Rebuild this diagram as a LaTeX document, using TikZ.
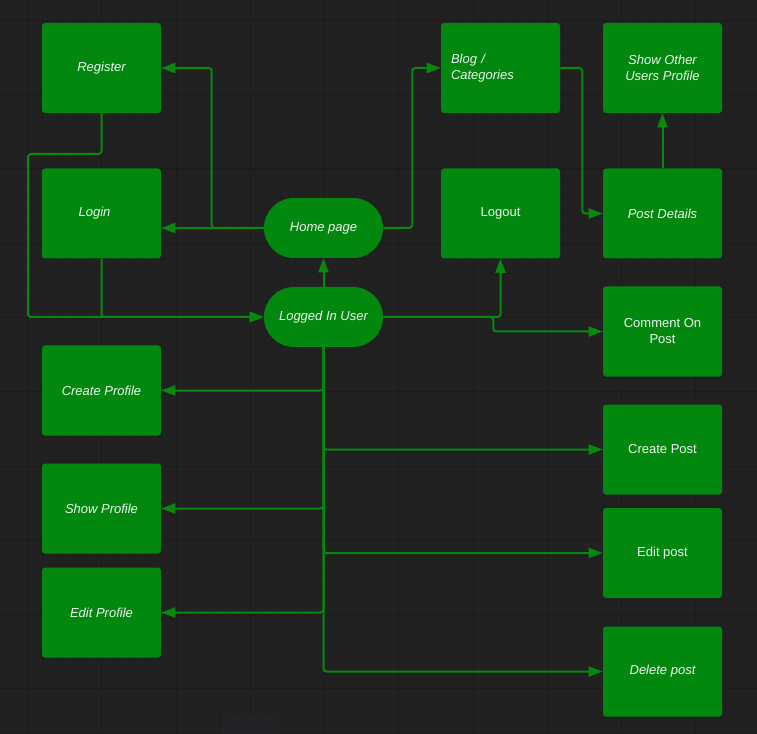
\documentclass[tikz,border=0pt]{standalone}
\usepackage{fontspec}
\setmainfont{Liberation Sans}
\usetikzlibrary{arrows.meta}
\definecolor{bg}{HTML}{212121}
\definecolor{gmin}{HTML}{1E1E1E}
\definecolor{gmaj}{HTML}{1B1B1B}
\definecolor{boxg}{HTML}{03880F}
\definecolor{lineg}{HTML}{07880F}
\definecolor{txt}{HTML}{EEF6EE}
\definecolor{faint}{HTML}{232326}
\begin{document}
\begin{tikzpicture}[x=0.75pt,y=-0.75pt,
  box/.style={fill=boxg, rounded corners=2.25pt, minimum width=89.25pt, minimum height=67.5pt,
    inner sep=0pt, text=txt, font=\fontsize{9.75}{12}\selectfont, align=center},
  ibox/.style={box, font=\fontsize{9.75}{12}\selectfont\itshape},
  pill/.style={ibox, rounded corners=22.5pt, minimum height=45pt},
  conn/.style={draw=lineg, line width=1.5pt, rounded corners=2.25pt,
    -{Triangle[length=10.5pt,width=7.5pt]}},
]
\useasboundingbox (0,0) rectangle (757,734);
% background and grid
\fill[bg] (0,0) rectangle (757,734);
\foreach \k in {-1,...,49} \draw[gmin, line width=0.6pt] ({27.5+\k*14.85},0) -- ({27.5+\k*14.85},734);
\foreach \k in {-1,...,48} \draw[gmin, line width=0.6pt] (0,{20.5+\k*14.85}) -- (757,{20.5+\k*14.85});
\foreach \k in {0,...,9} \draw[gmaj, line width=0.75pt] ({27.5+\k*74.25},0) -- ({27.5+\k*74.25},734);
\foreach \k in {0,...,9} \draw[gmaj, line width=0.75pt] (0,{20.5+\k*74.25}) -- (757,{20.5+\k*74.25});
\fill[faint, rounded corners=3pt] (222,714) rectangle (280,740);

% nodes
\node[ibox] (reg) at (101.5,68) {Register};
\node[ibox] (login) at (101.5,213.5) {Login\hspace*{10.5pt}};
\node[ibox] (cprof) at (101.5,390.5) {Create Profile};
\node[ibox] (sprof) at (101.5,508.5) {Show Profile};
\node[ibox] (eprof) at (101.5,612.5) {Edit Profile};
\node[pill] (home) at (323.5,228) {Home page};
\node[pill] (liu) at (323.5,317) {Logged In User};
\node[ibox, text width=74.25pt, align=left] (blog) at (500.5,68) {Blog /\\Categories};
\node[box] (logout) at (500.5,213.5) {Logout};
\node[ibox] (sop) at (662.5,68) {Show Other\\Users Profile};
\node[ibox] (pd) at (662.5,213.5) {Post Details};
\node[box] (cop) at (662.5,331.5) {Comment On\\Post};
\node[box] (cpost) at (662.5,449.5) {Create Post};
\node[box] (epost) at (662.5,553) {Edit post};
\node[ibox] (dpost) at (662.5,671.5) {Delete post};

\coordinate (regbend) at (28,154);

% connectors
\draw[conn] (home.west) -- ++(-52,0) |- (reg.east);
\draw[conn] (home.west) -- (home.west -| login.east);
\draw[conn] (home.east) -- ++(29,0) |- (blog.west);
\draw[conn] (blog.east) -- ++(22,0) |- (pd.west);
\draw[conn] (pd.north) -- (sop.south);
\draw[conn] (reg.south) |- (regbend) |- (liu.west);
\draw[conn] (login.south) |- (liu.west);
\draw[conn] (liu.north) -- (home.south);
\draw[conn] (liu.east) -| (logout.south);
\draw[conn] (liu.east) -- ++(110,0) |- (cop.west);
\draw[conn] (liu.south) |- (cprof.east);
\draw[conn] (liu.south) |- (sprof.east);
\draw[conn] (liu.south) |- (eprof.east);
\draw[conn] (liu.south) |- (cpost.west);
\draw[conn] (liu.south) |- (epost.west);
\draw[conn] (liu.south) |- (dpost.west);
\end{tikzpicture}
\end{document}
